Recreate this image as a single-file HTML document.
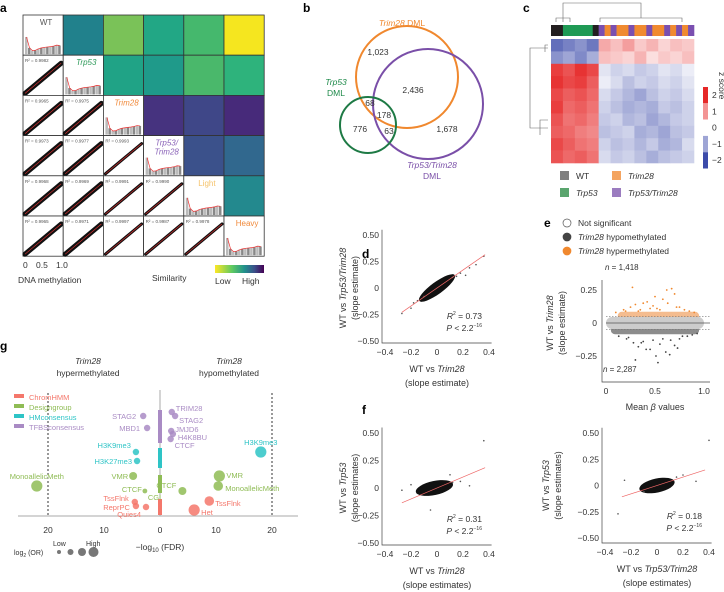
<!DOCTYPE html>
<html><head><meta charset="utf-8"><style>
html,body{margin:0;padding:0;background:#fff;}
svg{display:block;font-family:"Liberation Sans",sans-serif;}
text{fill:#333;}
.t{font-size:8.5px;}
.s{font-size:7px;}
.L{font-size:12px;font-weight:bold;fill:#000;}
.i{font-style:italic;}
</style></head><body>
<svg id="fig" width="724" height="592" viewBox="0 0 724 592">
<g id="pa">
<text class="L" x="0" y="12">a</text>
<text class="t" x="23" y="268">0</text>
<text class="t" x="36" y="268">0.5</text>
<text class="t" x="56" y="268">1.0</text>
<text class="t" x="18" y="283">DNA methylation</text>
<text class="t" x="152" y="281">Similarity</text>
<defs><linearGradient id="vir" x1="0" x2="1"><stop offset="0" stop-color="#fde725"/><stop offset="0.35" stop-color="#5ec962"/><stop offset="0.6" stop-color="#21918c"/><stop offset="0.8" stop-color="#3b528b"/><stop offset="1" stop-color="#440154"/></linearGradient></defs>
<rect x="215" y="265" width="49" height="8" fill="url(#vir)"/>
<text class="t" x="215" y="284">Low</text>
<text class="t" x="242" y="284">High</text>
</g>
<g id="pb">
<text class="L" x="303" y="12">b</text>
<circle cx="407" cy="77" r="51" fill="none" stroke="#f0882e" stroke-width="2"/>
<circle cx="428" cy="104" r="55" fill="none" stroke="#7a4fa8" stroke-width="2"/>
<circle cx="368" cy="125" r="28" fill="none" stroke="#1e7a45" stroke-width="2"/>
<text class="t" x="402" y="26" text-anchor="middle" style="fill:#f0882e"><tspan class="i">Trim28</tspan> DML</text>
<text class="t" x="336" y="85" text-anchor="middle" style="fill:#1e8a4a"><tspan class="i">Trp53</tspan><tspan x="336" dy="11">DML</tspan></text>
<text class="t" x="432" y="168" text-anchor="middle" style="fill:#7a4fa8"><tspan class="i">Trp53/Trim28</tspan><tspan x="432" dy="11">DML</tspan></text>
<text class="t" x="378" y="55" text-anchor="middle">1,023</text>
<text class="t" x="413" y="93" text-anchor="middle">2,436</text>
<text class="t" x="370" y="106" text-anchor="middle">68</text>
<text class="t" x="384" y="118" text-anchor="middle">178</text>
<text class="t" x="360" y="132" text-anchor="middle">776</text>
<text class="t" x="389" y="134" text-anchor="middle">63</text>
<text class="t" x="447" y="132" text-anchor="middle">1,678</text>
</g>
<g id="pc">
<text class="L" x="523" y="12">c</text>
<path d="M563 22V3H641V18M556 22V18H570V22M600 22V18H682V22M548 48H530V128H548M548 45H545V52M548 120H540V135" fill="none" stroke="#666" stroke-width="0.6"/>
<text class="t" x="719" y="72" transform="rotate(90 719 72)">z score</text>
</g>
<g id="pd">
<text class="L" x="362" y="258">d</text>
</g>
<g id="pe">
<text class="L" x="544" y="227">e</text>
</g>
<g id="pf">
<text class="L" x="362" y="414">f</text>
</g>
<g id="pg">
<text class="L" x="0" y="350">g</text>
<text class="t i" x="88" y="364" text-anchor="middle">Trim28</text>
<text class="t" x="88" y="376" text-anchor="middle">hypermethylated</text>
<text class="t i" x="229" y="364" text-anchor="middle">Trim28</text>
<text class="t" x="229" y="376" text-anchor="middle">hypomethylated</text>
<text class="t" x="160" y="550" text-anchor="middle">−log<tspan font-size="6" dy="2">10</tspan><tspan dy="-2"> (FDR)</tspan></text>
<text class="s" x="14" y="555">log<tspan font-size="5" dy="2">2</tspan><tspan dy="-2"> (OR)</tspan></text>
<text class="s" x="53" y="546">Low</text>
<text class="s" x="86" y="546">High</text>
</g>
</svg>
<script>
const NS='http://www.w3.org/2000/svg';
function mk(p,tag,a,txt){const e=document.createElementNS(NS,tag);for(const k in a)e.setAttribute(k,a[k]);if(txt!==undefined)e.textContent=txt;p.appendChild(e);return e;}
const pa=document.getElementById('pa'),pb=document.getElementById('pb'),pc=document.getElementById('pc'),pd=document.getElementById('pd'),pe=document.getElementById('pe'),pf=document.getElementById('pf'),pg=document.getElementById('pg');

/* ---------- panel a data ---------- */
const samples=['WT','Trp53','Trim28','Trp53/\nTrim28','Light','Heavy'];
const sampleColors=['#555','#2e9a5a','#f08a3c','#8a62b8','#f5c36b','#f08a3c'];
const simColors=[[null,'#21818c','#7ac258','#22a785','#45b86d','#f5e61f'],
[null,null,'#20a386','#1f9a8a','#4ab86b','#2eb37c'],
[null,null,null,'#46337f','#3f4788','#472a7a'],
[null,null,null,null,'#3b518b','#31688e'],
[null,null,null,null,null,'#23898e']];
const r2Values=[[],[0.9982],[0.9965,0.9975],[0.9973,0.9977,0.9993],[0.9968,0.9969,0.9991,0.9990],[0.9965,0.9971,0.9997,0.9987,0.9978]];
const histDensity=[0.95,0.35,0.2,0.22,0.3,0.35,0.38,0.4,0.42,0.45,0.5,0.48];
const g0=23,cs=40.2;
for(let r=0;r<6;r++)for(let c=0;c<6;c++){
 const x=g0+c*cs,y=15+r*cs;
 const cell=mk(pa,'rect',{x:x,y:y,width:cs,height:cs,fill:(c>r?simColors[r][c]:'#fff'),stroke:'#333','stroke-width':0.8});
 
 
 if(c<r){
  const ln=mk(pa,'path',{d:`M${x+2} ${y+cs-2}L${x+cs-2} ${y+8}`,stroke:'#111','stroke-width':c<2?5:3,'stroke-linecap':'round'});
  
  
  const rl=mk(pa,'path',{d:`M${x+2} ${y+cs-2}L${x+cs-2} ${y+8}`,stroke:'#e33','stroke-width':0.6});
  
  
  const tx=mk(pa,'text',{x:x+2,y:y+7,'font-size':4.5,style:'fill:#555'},'R² = '+r2Values[r][c].toFixed(4));
  
  
 } else if(c==r){
  const bw=(cs-4)/histDensity.length;let d='';
  histDensity.forEach((v,i)=>{
   const b=mk(pa,'rect',{x:x+2+i*bw,y:y+cs-1-v*(cs*0.45),width:bw-0.5,height:v*(cs*0.45),fill:i%2?'#888':'#bbb'});
   
   
   d+=(i?'L':'M')+(x+2+(i+0.5)*bw)+' '+(y+cs-1-v*(cs*0.45));
  });
  const cv=mk(pa,'path',{d:d,fill:'none',stroke:'#e33','stroke-width':0.7});
  
  
  const parts=samples[r].split('\n');
  parts.forEach((p,k)=>{
   const t=mk(pa,'text',{x:x+cs/2+3,y:y+10+k*9,'text-anchor':'middle','font-size':8,style:'fill:'+sampleColors[r]+(r>0&&r<4?';font-style:italic':'')},p);
   
   
  });
 }
}

/* ---------- panel c data ---------- */
const sampleGroups=['WT','WT','Trp53','Trp53','Trp53','Trp53','Trp53','WT','DKO','Trim28','DKO','Trim28','Trim28','DKO','Trim28','Trim28','DKO','Trim28','Trim28','DKO','Trim28','DKO','Trim28','DKO'];
const groupColors={WT:'#231f20',Trp53:'#1f9a55',Trim28:'#f08a30',DKO:'#7a4fb0'};
const heatValues=[
[-1.6,-1.4,-1.2,-1.5,0.8,0.6,0.9,0.5,0.7,0.4,0.6,0.5],
[-1.2,-1.0,-1.3,-0.9,0.6,0.5,0.4,0.7,0.3,0.5,0.4,0.6],
[1.8,1.6,1.9,1.7,-0.3,-0.5,-0.4,-0.6,-0.5,-0.3,-0.4,-0.2],
[1.9,1.7,1.8,1.5,-0.2,-0.4,-0.7,-0.5,-0.6,-0.4,-0.5,-0.3],
[1.7,1.5,1.6,1.4,-0.4,-0.6,-0.8,-1.0,-0.7,-0.5,-0.6,-0.4],
[1.8,1.4,1.5,1.3,-0.5,-0.7,-0.9,-0.8,-0.9,-0.6,-0.7,-0.5],
[1.6,1.3,1.4,1.2,-0.6,-0.5,-0.8,-0.7,-1.0,-0.8,-0.6,-0.5],
[1.5,1.4,1.2,1.1,-0.7,-0.6,-0.5,-0.9,-0.8,-1.0,-0.7,-0.6],
[1.7,1.5,1.3,1.2,-0.5,-0.7,-0.6,-0.8,-0.6,-0.9,-0.8,-0.4],
[1.6,1.4,1.5,1.3,-0.4,-0.6,-0.5,-0.7,-0.9,-0.7,-0.6,-0.5]];
const zTicks=[2,1,0,-1,-2];
function zcol(v){const t=Math.max(-1,Math.min(1,v/2));let a,b;if(t>0){a=[255,255,255];b=[230,40,40];}else{a=[255,255,255];b=[60,75,170];}const k=Math.abs(t);return `rgb(${Math.round(a[0]+(b[0]-a[0])*k)},${Math.round(a[1]+(b[1]-a[1])*k)},${Math.round(a[2]+(b[2]-a[2])*k)})`;}
const hx=551,hy=39,hw=143,hh=124;
sampleGroups.forEach((g,i)=>{const w=hw/sampleGroups.length;
 const r=mk(pc,'rect',{x:hx+i*w,y:25,width:w+0.3,height:11,fill:groupColors[g]});
 
 });
heatValues.forEach((row,ri)=>row.forEach((v,ci)=>{
 const cw=hw/row.length,rh=hh/heatValues.length;
 const r=mk(pc,'rect',{x:hx+ci*cw,y:hy+ri*rh,width:cw+0.3,height:rh+0.3,fill:zcol(v)});
 
 }));
zTicks.forEach((z,i)=>{
 const y=95+(2-z)*16.3;
 const r=mk(pc,'rect',{x:703,y:y-8,width:5,height:16.3,fill:zcol(z)});
 
 
 const t=mk(pc,'text',{x:712,y:y+3,'font-size':8.5},z<0?'−'+(-z):String(z));
 
 });
const legItems=[['WT','#808080',560,176,false],['Trim28','#f4a460',612,176,true],['Trp53','#5aa56e',560,193,true],['Trp53/Trim28','#9b7cc0',612,193,true]];
legItems.forEach(l=>{
 const r=mk(pc,'rect',{x:l[2],y:l[3]-5,width:9,height:9,fill:l[1]});
 
 
 const t=mk(pc,'text',{x:l[2]+16,y:l[3]+3,'font-size':8.5,'font-style':l[4]?'italic':'normal'},l[0]);
 
 });

/* ---------- scatter panels d, f ---------- */
const xTicks=[-0.4,-0.2,0,0.2,0.4];
const yTicks=[0.5,0.25,0,-0.25,-0.5];
const dOutX=[-0.27,-0.2,-0.15,0.12,0.18,0.25,0.3,0.36,0.22,-0.1,0.15,-0.18];
const dOutY=[-0.24,-0.19,-0.12,0.1,0.14,0.19,0.22,0.3,0.12,-0.08,0.11,-0.14];
const fOutX=[-0.27,-0.2,0.12,0.18,0.25,0.36,-0.05,0.1];
const fOutY=[-0.02,0.03,0.05,0.06,0.02,0.43,-0.2,0.12];
const f2OutX=[-0.3,-0.25,0.15,0.2,0.3,0.4,-0.1];
const f2OutY=[-0.27,0.05,0.08,0.1,0.04,0.43,-0.06];
function scatter(p,o){
 const sx=v=>o.x0+(v+0.4)*o.kx, sy=v=>o.y0-(v+0.5)*o.ky;
 const ax=mk(p,'path',{d:`M${o.x0-3} ${sy(0.55)}V${o.axY}H${sx(0.42)}`,fill:'none',stroke:'#444','stroke-width':0.7});
 
 
 xTicks.forEach(v=>{
  const t=mk(p,'text',{x:sx(v),y:o.axY+12,'text-anchor':'middle','font-size':8.5},v===0?'0':(v<0?'−':'')+Math.abs(v).toFixed(1));
  
  });
 yTicks.forEach(v=>{
  const t=mk(p,'text',{x:o.x0-6,y:sy(v)+3,'text-anchor':'end','font-size':8.5},v===0?'0':(v<0?'−':'')+Math.abs(v).toFixed(2));
  
  });
 const bl=mk(p,'ellipse',{cx:sx(o.cx),cy:sy(0),rx:o.rx,ry:o.ry,fill:'#111',transform:`rotate(${o.rot} ${sx(o.cx)} ${sy(0)})`});
 
 
 o.ox.forEach((v,i)=>{
  const c=mk(p,'circle',{cx:sx(v),cy:sy(o.oy[i]),r:0.8,fill:'#555'});
  
  });
 const fl=mk(p,'line',{x1:sx(-0.27),y1:sy(-0.27*o.slope),x2:sx(0.37),y2:sy(0.37*o.slope),stroke:'#e66','stroke-width':0.7});
 
 
 const r2=mk(p,'text',{x:o.tx,y:o.ty,'font-size':8.5,'text-anchor':'end'});
 r2.innerHTML=`<tspan font-style="italic">R</tspan><tspan font-size="5" dy="-4">2</tspan><tspan dy="4"> = ${o.r2}</tspan>`;
 
 
 const pv=mk(p,'text',{x:o.tx,y:o.ty+12,'font-size':8.5,'text-anchor':'end'});
 pv.innerHTML='<tspan font-style="italic">P</tspan> &lt; 2.2<tspan font-size="5" dy="-4">−16</tspan>';
 
 
 const xl=mk(p,'text',{x:sx(0),y:o.axY+29,'text-anchor':'middle','font-size':9});
 xl.innerHTML=o.xlab;
 
 
 const xl2=mk(p,'text',{x:sx(0),y:o.axY+43,'text-anchor':'middle','font-size':9},o.sub);
 
 
 const yc=sy(0);
 const yl=mk(p,'text',{x:o.ylx,y:yc,'text-anchor':'middle','font-size':9,transform:`rotate(-90 ${o.ylx} ${yc})`});
 yl.innerHTML=o.ylab;
 
 
 const yl2=mk(p,'text',{x:o.ylx+12,y:yc,'text-anchor':'middle','font-size':9,transform:`rotate(-90 ${o.ylx+12} ${yc})`},o.sub);
 
 
}
scatter(pd,{x0:385,kx:130,y0:341,ky:106,axY:343,cx:0,rx:22,ry:6,rot:-36,ox:dOutX,oy:dOutY,slope:0.85,r2:'0.73',tx:482,ty:319,
 xlab:'WT vs <tspan font-style="italic">Trim28</tspan>',sub:'(slope estimate)',ylab:'WT vs <tspan font-style="italic">Trp53/Trim28</tspan>',ylx:346});
scatter(pf,{x0:385,kx:130,y0:543,ky:110,axY:545,cx:-0.02,rx:19,ry:7,rot:-12,ox:fOutX,oy:fOutY,slope:0.5,r2:'0.31',tx:482,ty:522,
 xlab:'WT vs <tspan font-style="italic">Trim28</tspan>',sub:'(slope estimates)',ylab:'WT vs <tspan font-style="italic">Trp53</tspan>',ylx:346});
scatter(pf,{x0:605,kx:130,y0:538,ky:105,axY:543,cx:0,rx:18,ry:7,rot:-12,ox:f2OutX,oy:f2OutY,slope:0.4,r2:'0.18',tx:702,ty:519,
 xlab:'WT vs <tspan font-style="italic">Trp53/Trim28</tspan>',sub:'(slope estimates)',ylab:'WT vs <tspan font-style="italic">Trp53</tspan>',ylx:549});

/* ---------- panel e ---------- */
const eBeta=[0.1,0.18,0.25,0.3,0.35,0.42,0.48,0.52,0.58,0.63,0.67,0.72,0.8,0.85,0.9,0.27,0.5,0.62,0.38,0.7,0.2,0.45,0.55,0.75,0.33];
const eHyper=[0.08,0.1,0.12,0.14,0.1,0.16,0.13,0.11,0.18,0.15,0.26,0.12,0.1,0.09,0.08,0.27,0.2,0.25,0.15,0.22,0.09,0.11,0.1,0.12,0.09];
const eHypo=[-0.1,-0.12,-0.15,-0.18,-0.14,-0.2,-0.25,-0.16,-0.22,-0.13,-0.17,-0.12,-0.1,-0.09,-0.08,-0.28,-0.3,-0.24,-0.2,-0.19,-0.11,-0.13,-0.12,-0.1,-0.15];
const eX=v=>606+v*98, eY=v=>323-v*132;
const eAx=mk(pe,'path',{d:'M602 280V382H710',fill:'none',stroke:'#444','stroke-width':0.7});


[[0,'0'],[0.5,'0.5'],[1,'1.0']].forEach(t=>{
 const e=mk(pe,'text',{x:eX(t[0]),y:394,'text-anchor':'middle','font-size':8.5},t[1]);
 
 });
[[0.25,'0.25'],[0,'0'],[-0.25,'−0.25']].forEach(t=>{
 const e=mk(pe,'text',{x:597,y:eY(t[0])+3,'text-anchor':'end','font-size':8.5},t[1]);
 
 });
const hyBand=mk(pe,'rect',{x:eX(0.12),y:eY(0.085),width:eX(0.95)-eX(0.12),height:eY(0)-eY(0.085),fill:'#f0a060',opacity:0.7,rx:4});


const hoBand=mk(pe,'rect',{x:eX(0.05),y:eY(0),width:eX(0.95)-eX(0.05),height:eY(-0.085)-eY(0),fill:'#666',opacity:0.75,rx:4});


const nsBand=mk(pe,'rect',{x:eX(0),y:eY(0.045),width:eX(1)-eX(0),height:eY(-0.045)-eY(0.045),fill:'#ccc',rx:6});


eBeta.forEach((b,i)=>{
 const c1=mk(pe,'circle',{cx:eX(b),cy:eY(eHyper[i]),r:0.9,fill:'#f0882e'});
 
 
 const c2=mk(pe,'circle',{cx:eX(b+0.03),cy:eY(eHypo[i]),r:0.9,fill:'#444'});
 
 });
[0.05,-0.05].forEach(v=>{
 const l=mk(pe,'line',{x1:eX(0),x2:710,y1:eY(v),y2:eY(v),stroke:'#777','stroke-dasharray':'1.5 1.5','stroke-width':0.6});
 
 });
const zl=mk(pe,'line',{x1:eX(0),x2:710,y1:eY(0),y2:eY(0),stroke:'#555','stroke-width':0.8});


const eLeg=[['Not significant','#fff','#555',''],['hypomethylated','#444','#444','Trim28'],['hypermethylated','#f0882e','#f0882e','Trim28']];
eLeg.forEach((l,i)=>{
 const c=mk(pe,'circle',{cx:567,cy:223+i*14,r:4,fill:l[1],stroke:l[2],'stroke-width':0.7});
 
 
 const t=mk(pe,'text',{x:578,y:226+i*14,'font-size':8.5});
 t.innerHTML=(l[3]?'<tspan font-style="italic">'+l[3]+'</tspan> ':'')+l[0];
 
 });
const n1=mk(pe,'text',{x:605,y:270,'font-size':8});
n1.innerHTML='<tspan font-style="italic">n</tspan> = 1,418';


const n2=mk(pe,'text',{x:603,y:372,'font-size':8});
n2.innerHTML='<tspan font-style="italic">n</tspan> = 2,287';


const ex=mk(pe,'text',{x:655,y:410,'text-anchor':'middle','font-size':9});
ex.innerHTML='Mean <tspan font-style="italic">β</tspan> values';


const ey1=mk(pe,'text',{x:553,y:323,'text-anchor':'middle','font-size':9,transform:'rotate(-90 553 323)'});
ey1.innerHTML='WT vs <tspan font-style="italic">Trim28</tspan>';


const ey2=mk(pe,'text',{x:565,y:323,'text-anchor':'middle','font-size':9,transform:'rotate(-90 565 323)'},'(slope estimate)');



/* ---------- panel g ---------- */
const gCats=['ChromHMM','Designgroup','HMconsensus','TFBSconsensus'];
const gCatColors=['#f4776b','#8fbc55','#2ec4c6','#a98bc4'];
const gLabels=['STAG2','MBD1','H3K9me3','H3K27me3','VMR','MonoallelicMeth','CTCF','TssFlnk','ReprPC','Quies4','TRIM28','STAG2','JMJD6','H4K8BU','CTCF','H3K9me3','VMR','MonoallelicMeth','CTCF','TssFlnk','Het','CGI'];
const gFdr=[-3.0,-2.3,-4.3,-4.1,-4.8,-22,-2.7,-4.5,-4.3,-2.5,2.1,2.7,2.0,2.3,1.9,18,10.6,10.4,4.0,8.8,6.1,-2.7];
const gRow=[416,428,452,461,476,486,491,502,506,507,412,416,431,434,439,452,476,486,491,501,510,496];
const gCat=[3,3,2,2,1,1,1,0,0,0,3,3,3,3,3,2,1,1,1,0,0,1];
const gOR=[2,2,2,2,2.5,3.5,1.5,2,2,2,2,2,2,2,2,3.5,3.5,3,2.5,3,3.5,0];
const gx=v=>160+v*5.6;
const gAx=mk(pg,'line',{x1:18,x2:298,y1:516,y2:516,stroke:'#aaa','stroke-width':1});


const gZ=mk(pg,'line',{x1:160,x2:160,y1:390,y2:516,stroke:'#aaa','stroke-width':1});


[-20,20].forEach(v=>{
 const l=mk(pg,'line',{x1:gx(v),x2:gx(v),y1:393,y2:516,stroke:'#333','stroke-dasharray':'2 2','stroke-width':1});
 
 });
[-20,-10,0,10,20].forEach(v=>{
 const t=mk(pg,'text',{x:gx(v),y:533,'text-anchor':'middle','font-size':8.5},String(Math.abs(v)));
 
 });
const catBars=[[3,410,443],[2,448,468],[1,475,493],[0,499,515]];
catBars.forEach(b=>{
 const r=mk(pg,'rect',{x:158,y:b[1],width:4,height:b[2]-b[1],fill:gCatColors[b[0]]});
 
 });
gCats.forEach((c,i)=>{
 const r=mk(pg,'rect',{x:14,y:394+i*10,width:10,height:4,fill:gCatColors[i]});
 
 
 const t=mk(pg,'text',{x:29,y:400+i*10,'font-size':7.5,style:'fill:'+gCatColors[i]},c);
 
 });
const gLabDx=[-7,-7,-5,-5,-5,0,-3,-6,-6,-5,4,4,4,5,4,0,7,7,-6,6,7,3];
const gLabDy=[0,0,-7,0,0,-10,-2,-4,1,7,-4,4,-2,3,6,-10,-1,2,-6,2,2,1];
gLabels.forEach((l,i)=>{
 if(gOR[i]>0){
  const c=mk(pg,'circle',{cx:gx(gFdr[i]),cy:gRow[i],r:gOR[i]*1.6,fill:gCatColors[gCat[i]],opacity:0.85});
  
  }
 const dx=gLabDx[i];
 const anchor=dx<0?'end':(dx>0?'start':'middle');
 const t=mk(pg,'text',{x:gx(gFdr[i])+dx,y:gRow[i]+3+gLabDy[i],'text-anchor':anchor,'font-size':7.5,style:'fill:'+gCatColors[gCat[i]]},l);
 
 });
[2,3,4,5].forEach((r,i)=>{
 const c=mk(pg,'circle',{cx:59+i*11.5,cy:552,r:r,fill:'#777'});
 
 });
</script>
</body></html>
